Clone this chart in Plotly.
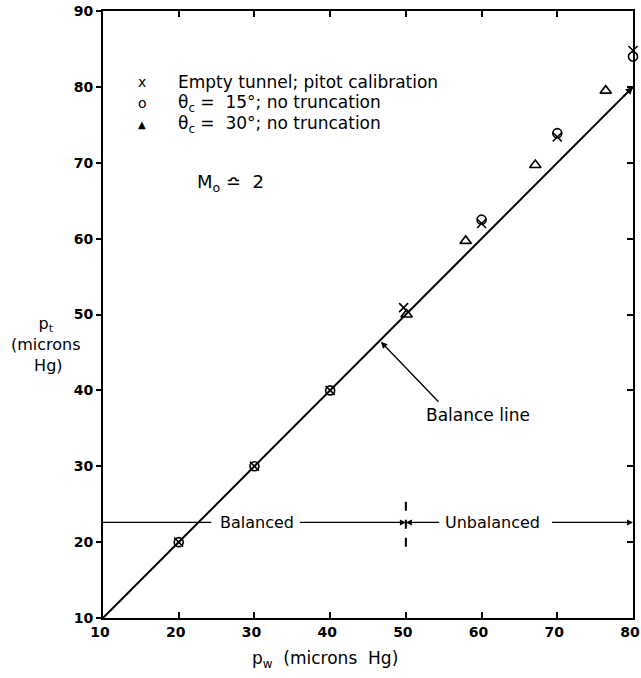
import plotly.graph_objects as go

# ---------------- data ----------------
series_names = ["Empty tunnel; pitot calibration",
                "θ<sub>c</sub> =  15°; no truncation",
                "θ<sub>c</sub> =  30°; no truncation"]
legend_chars = ["x", "o", "▲"]

empty_x = [20, 30, 40, 49.7, 60, 70, 80]
empty_y = [20, 30, 40, 50.9, 62.0, 73.4, 84.8]

c15_x = [20, 30, 40, 60, 70, 80]
c15_y = [20, 30, 40, 62.5, 73.9, 84.0]

c30_x = [50.1, 57.9, 67.1, 76.4]
c30_y = [50.0, 59.7, 69.7, 79.5]

balance_x = [10, 80]
balance_y = [10, 80]

x_ticks = [10, 20, 30, 40, 50, 60, 70, 80]
y_ticks = [10, 20, 30, 40, 50, 60, 70, 80, 90]

# annotation anchors (data units)
balanced_level = 22.6
split_x = 50
dash_y = [19.4, 26.2]

FONT = "DejaVu Sans"
BLACK = "black"

fig = go.Figure()

fig.add_trace(go.Scatter(x=balance_x, y=balance_y, mode="lines",
                         line=dict(color=BLACK, width=2), yaxis="y2",
                         showlegend=False, hoverinfo="skip"))
fig.add_trace(go.Scatter(x=c15_x, y=c15_y, mode="markers", name=series_names[1],
                         marker=dict(symbol="circle-open", size=9, color=BLACK,
                                     line=dict(width=1.6, color=BLACK)),
                         cliponaxis=False, showlegend=False))
fig.add_trace(go.Scatter(x=empty_x, y=empty_y, mode="markers", name=series_names[0],
                         marker=dict(symbol="x-thin-open", size=9, color=BLACK,
                                     line=dict(width=1.6, color=BLACK)),
                         cliponaxis=False, showlegend=False))
fig.add_trace(go.Scatter(x=c30_x, y=c30_y, mode="markers", name=series_names[2],
                         marker=dict(symbol="triangle-up-open", size=10, color=BLACK,
                                     line=dict(width=1.6, color=BLACK)),
                         cliponaxis=False, showlegend=False))

annotations = []
# legend built from the series names
leg_y = [0.883, 0.848, 0.813]
for ch, nm, yy in zip(legend_chars, series_names, leg_y):
    annotations.append(dict(xref="paper", yref="paper", x=0.0736, y=yy, text=ch,
                            showarrow=False, xanchor="center", yanchor="middle",
                            font=dict(family=FONT, size=14 if ch != "▲" else 10, color=BLACK)))
    annotations.append(dict(xref="paper", yref="paper", x=0.1377, y=yy, text=nm,
                            showarrow=False, xanchor="left", yanchor="middle",
                            font=dict(family=FONT, size=17, color=BLACK)))

annotations.append(dict(xref="paper", yref="paper", x=0.1736, y=0.7166,
                        text="M<sub>o</sub> ≏  2", showarrow=False,
                        xanchor="left", yanchor="middle",
                        font=dict(family=FONT, size=18, color=BLACK)))

# arrowhead at the end of the balance line
annotations.append(dict(x=balance_x[1], y=balance_y[1], ax=78.5, ay=78.5,
                        axref="x", ayref="y", text="", showarrow=True, arrowhead=2,
                        arrowsize=1, arrowwidth=1.5, arrowcolor=BLACK))

# Balance line label + pointer
annotations.append(dict(x=59.5, y=36.8, text="Balance line", showarrow=False,
                        font=dict(family=FONT, size=17, color=BLACK)))
annotations.append(dict(x=46.7, y=46.4, ax=54.5, ay=38.3, axref="x", ayref="y",
                        text="", showarrow=True, arrowhead=2, arrowsize=1,
                        arrowwidth=1.3, arrowcolor=BLACK))

# Balanced / Unbalanced
annotations.append(dict(x=30.3, y=balanced_level, text="Balanced", showarrow=False,
                        font=dict(family=FONT, size=16, color=BLACK)))
annotations.append(dict(x=61.4, y=balanced_level, text="Unbalanced", showarrow=False,
                        font=dict(family=FONT, size=16, color=BLACK)))
annotations.append(dict(x=split_x, y=balanced_level, ax=35.8, ay=balanced_level,
                        axref="x", ayref="y", text="", showarrow=True, arrowhead=2,
                        arrowsize=1, arrowwidth=1.2, arrowcolor=BLACK))
annotations.append(dict(x=split_x, y=balanced_level, ax=54.6, ay=balanced_level,
                        axref="x", ayref="y", text="", showarrow=True, arrowhead=2,
                        arrowsize=1, arrowwidth=1.2, arrowcolor=BLACK))
annotations.append(dict(x=80, y=balanced_level, ax=69.1, ay=balanced_level,
                        axref="x", ayref="y", text="", showarrow=True, arrowhead=2,
                        arrowsize=1, arrowwidth=1.2, arrowcolor=BLACK))

# axis titles
annotations.append(dict(xref="paper", yref="paper", x=-0.1075, y=0.45,
                        text="p<sub>t</sub><br>(microns<br> Hg)", showarrow=False,
                        align="center", xanchor="center", yanchor="middle",
                        font=dict(family=FONT, size=16, color=BLACK)))
annotations.append(dict(xref="paper", yref="paper", x=0.419, y=-0.068,
                        text="p<sub>w</sub>  (microns  Hg)", showarrow=False,
                        xanchor="center", yanchor="middle",
                        font=dict(family=FONT, size=17, color=BLACK)))

shapes = [
    dict(type="line", x0=10, x1=24.3, y0=balanced_level, y1=balanced_level,
         line=dict(color=BLACK, width=1.2)),
    dict(type="line", x0=split_x, x1=split_x, y0=dash_y[0], y1=dash_y[1],
         line=dict(color=BLACK, width=2, dash="dash")),
]

tickfont = dict(family=FONT, size=14, color=BLACK, weight="bold")

fig.update_layout(
    width=641, height=678,
    margin=dict(l=103, r=8, t=11, b=60, autoexpand=False),
    paper_bgcolor="white", plot_bgcolor="white",
    showlegend=False,
    xaxis=dict(range=[10, 80], tickvals=x_ticks, ticks="inside", ticklen=6,
               tickwidth=1.5, tickcolor=BLACK, showline=True, linewidth=2,
               linecolor=BLACK, mirror="ticks", showgrid=False, zeroline=False,
               tickfont=tickfont, ticklabeloverflow="allow", ticklabelshift=-3,
               automargin=False, fixedrange=True),
    yaxis=dict(range=[10, 90], tickvals=y_ticks, ticks="outside", ticklen=5,
               tickwidth=1.5, tickcolor=BLACK, showline=True, linewidth=2,
               linecolor=BLACK, showgrid=False, zeroline=False,
               ticklabelstandoff=0, ticklabeloverflow="allow", automargin=False,
               tickfont=tickfont, fixedrange=True),
    yaxis2=dict(range=[10, 90], tickvals=y_ticks, overlaying="y", side="right",
                ticks="inside", ticklen=6, tickwidth=1.5, tickcolor=BLACK,
                showline=True, linewidth=2, linecolor=BLACK, showgrid=False,
                zeroline=False, showticklabels=False, automargin=False,
                fixedrange=True),
    annotations=annotations,
    shapes=shapes,
)

fig.write_html("out.html")
